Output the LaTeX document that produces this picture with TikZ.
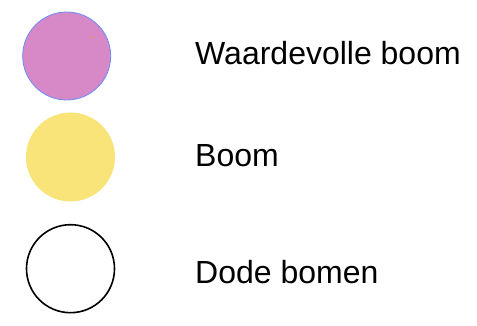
\documentclass[tikz,border=0pt]{standalone}
\usepackage{fontspec}
\setmainfont{Liberation Sans}
\usepackage{tikz}
\usetikzlibrary{positioning}
\definecolor{treepink}{RGB}{214,137,198}
\definecolor{treeyellow}{RGB}{248,228,121}
\definecolor{edgeblue}{RGB}{105,140,250}
\definecolor{dotorange}{RGB}{240,150,60}

\tikzset{
  legendcircle/.style={circle, minimum size=88pt, inner sep=0pt},
  legendtext/.style={anchor=base west, inner sep=0pt, font=\fontsize{32}{36}\selectfont}
}

\begin{document}
\begin{tikzpicture}[x=1pt, y=-1pt]
\useasboundingbox (0,0) rectangle (477,326);

% Legend symbols
\node[legendcircle, fill=treepink, draw=edgeblue, line width=0.8pt] (valuable) at (66.7,56) {};
\node[legendcircle, fill=treeyellow, minimum size=89pt] (tree) at (70.5,157) {};
\node[legendcircle, draw=black, line width=1.6pt, minimum size=88pt] (dead) at (70.5,268.7) {};

% Small dot in the pink circle
\fill[dotorange] (92,37) circle (1.2pt);

% Labels
\node[legendtext] (valuablelabel) at (195,65) {Waardevolle boom};
\node[legendtext] (treelabel) at (195,166.7) {Boom};
\node[legendtext] (deadlabel) at (195,283.3) {Dode bomen};
\end{tikzpicture}
\end{document}
